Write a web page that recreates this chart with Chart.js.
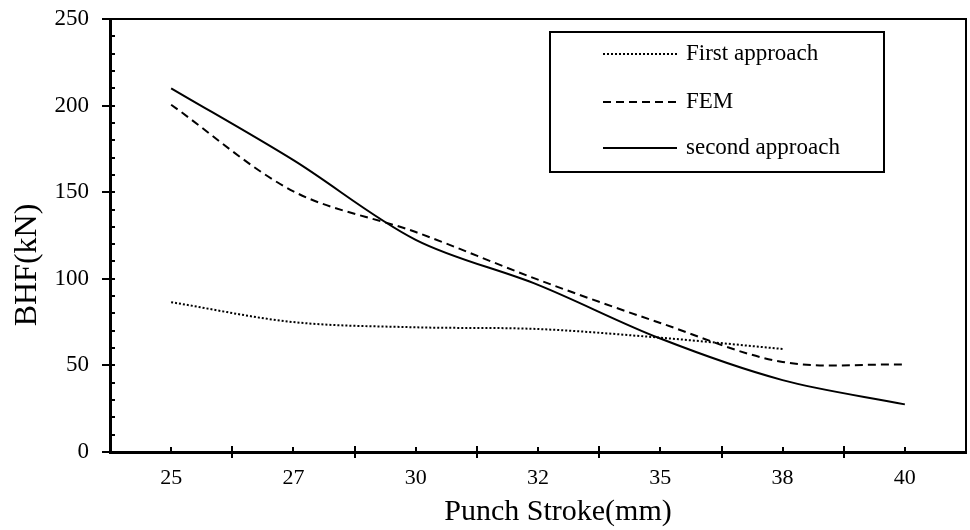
<!DOCTYPE html>
<html>
<head>
<meta charset="utf-8">
<script src="https://cdn.jsdelivr.net/npm/chart.js@4/dist/chart.umd.min.js"></script>
<style>
  html, body { margin: 0; padding: 0; background: #fff; }
  canvas { display: block; }
</style>
</head>
<body>
<canvas id="chart" width="970" height="530"></canvas>
<script>
"use strict";
const strokes = ["25", "27", "30", "32", "35", "38", "40"];
const firstApproach = [86.5, 75, 72, 71, 66, 59.5, null];
const fem = [200.5, 150.5, 127, 99.5, 74.5, 52, 50.5];
const secondApproach = [210, 168.5, 122.5, 96.5, 65.5, 41.5, 27.5];
const yMax = 250;
const yStep = 50;
const yMinor = 10;
const xTitle = "Punch Stroke(mm)";
const yTitle = "BHF(kN)";

const serif = "'Liberation Serif', 'Times New Roman', serif";

// ticks, frame, axis titles and boxed legend
const decor = {
  id: "decor",
  afterDraw(chart) {
    const { ctx, chartArea: a, scales } = chart;
    const x = scales.x;
    const y = scales.y;
    ctx.save();
    ctx.strokeStyle = "#000";
    ctx.fillStyle = "#000";
    ctx.setLineDash([]);
    // top and right frame
    ctx.lineWidth = 2;
    ctx.beginPath();
    ctx.moveTo(a.left, a.top);
    ctx.lineTo(a.right, a.top);
    ctx.lineTo(a.right, a.bottom);
    ctx.stroke();
    // y ticks
    for (let v = 0; v <= yMax; v += yMinor) {
      const py = Math.round(y.getPixelForValue(v));
      ctx.beginPath();
      if (v % yStep === 0) {
        ctx.moveTo(a.left - 8, py);
        ctx.lineTo(a.left + 5, py);
      } else {
        ctx.moveTo(a.left, py);
        ctx.lineTo(a.left + 5, py);
      }
      ctx.stroke();
    }
    // x ticks: major on category borders, minor at centres
    const w = (a.right - a.left) / strokes.length;
    for (let i = 0; i < strokes.length; i++) {
      const cx = Math.round(x.getPixelForValue(i));
      ctx.beginPath();
      ctx.moveTo(cx, a.bottom);
      ctx.lineTo(cx, a.bottom - 5);
      ctx.stroke();
      if (i > 0) {
        const bx = Math.round(cx - w / 2);
        ctx.beginPath();
        ctx.moveTo(bx, a.bottom - 6);
        ctx.lineTo(bx, a.bottom + 6);
        ctx.stroke();
      }
    }
    // axis titles
    ctx.textAlign = "center";
    ctx.textBaseline = "alphabetic";
    ctx.font = "30px " + serif;
    ctx.fillText(xTitle, 558, 520);
    ctx.save();
    ctx.font = "32px " + serif;
    ctx.translate(36, 265);
    ctx.rotate(-Math.PI / 2);
    ctx.fillText(yTitle, 0, 0);
    ctx.restore();
    // legend
    const box = { left: 550, top: 32, right: 884, bottom: 172 };
    ctx.lineWidth = 2;
    ctx.strokeRect(box.left, box.top, box.right - box.left, box.bottom - box.top);
    ctx.font = "23px " + serif;
    ctx.textAlign = "left";
    ctx.textBaseline = "middle";
    const rows = [54, 102, 148];
    chart.data.datasets.forEach((ds, i) => {
      const ry = rows[i];
      ctx.lineWidth = ds.borderWidth;
      ctx.setLineDash(ds.borderDash || []);
      ctx.beginPath();
      ctx.moveTo(603, ry);
      ctx.lineTo(677, ry);
      ctx.stroke();
      ctx.setLineDash([]);
      ctx.fillText(ds.label, 686, ry);
    });
    ctx.restore();
  }
};

new Chart(document.getElementById("chart"), {
  type: "line",
  data: {
    labels: strokes,
    datasets: [
      {
        label: "First approach",
        data: firstApproach,
        borderColor: "#000",
        borderWidth: 2,
        borderDash: [2, 2],
        pointRadius: 0,
        tension: 0.33,
      },
      {
        label: "FEM",
        data: fem,
        borderColor: "#000",
        borderWidth: 2,
        borderDash: [8, 5],
        pointRadius: 0,
        tension: 0.33,
      },
      {
        label: "second approach",
        data: secondApproach,
        borderColor: "#000",
        borderWidth: 2,
        pointRadius: 0,
        tension: 0.33,
      },
    ],
  },
  options: {
    responsive: false,
    animation: false,
    devicePixelRatio: 1,
    layout: { padding: { top: 19, right: 4, left: 0, bottom: 0 } },
    plugins: {
      legend: { display: false },
      tooltip: { enabled: false },
    },
    scales: {
      x: {
        type: "category",
        offset: true,
        grid: { display: false, drawTicks: false },
        border: { display: true, color: "#000", width: 3 },
        ticks: {
          color: "#000",
          padding: 13,
          maxRotation: 0,
          font: { family: serif, size: 22 },
        },
        afterFit(scale) {
          scale.height = 78;
          scale.paddingLeft = 0;
          scale.paddingRight = 0;
        },
      },
      y: {
        min: 0,
        max: yMax,
        grid: { display: false, drawTicks: false },
        border: { display: true, color: "#000", width: 3 },
        ticks: {
          stepSize: yStep,
          color: "#000",
          padding: 21,
          font: { family: serif, size: 23 },
        },
        afterFit(scale) {
          scale.width = 110;
          scale.paddingTop = 0;
          scale.paddingBottom = 0;
        },
      },
    },
  },
  plugins: [decor],
});
</script>
</body>
</html>
